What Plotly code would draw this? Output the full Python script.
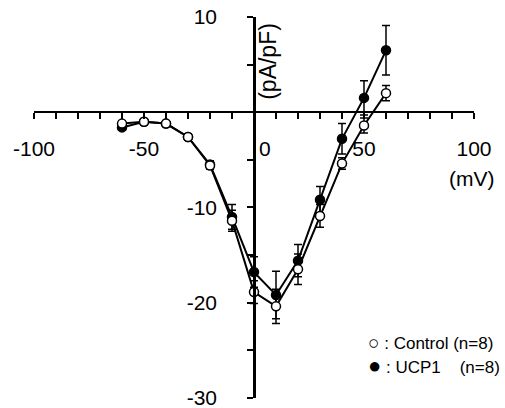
import plotly.graph_objects as go

voltages = [-60, -50, -40, -30, -20, -10, 0, 10, 20, 30, 40, 50, 60]
control = [-1.2, -1.0, -1.2, -2.6, -5.6, -11.4, -18.9, -20.4, -16.5, -10.9, -5.4, -1.4, 2.0]
control_err = [0.3, 0.3, 0.3, 0.3, 0.4, 1.1, 1.2, 1.8, 1.6, 1.2, 0.6, 0.8, 0.8]
ucp1 = [-1.6, -1.0, -1.2, -2.6, -5.5, -11.0, -16.8, -19.2, -15.6, -9.2, -2.8, 1.5, 6.5]
ucp1_err = [0.3, 0.3, 0.3, 0.3, 0.4, 1.3, 1.6, 2.5, 1.7, 1.4, 1.6, 1.8, 2.6]

x_ticks = list(range(-100, 101, 10))
x_labels = {-100: "-100", -50: "-50", 50: "50", 100: "100"}
y_ticks = list(range(-30, 11, 5))
y_labels = {10: "10", -10: "-10", -20: "-20", -30: "-30"}

FONT = "Liberation Sans, Arial, Helvetica, sans-serif"

fig = go.Figure()
fig.add_trace(go.Scatter(
    x=voltages, y=ucp1, mode="lines+markers", name="UCP1",
    line=dict(color="black", width=2),
    marker=dict(symbol="circle", size=9, color="black", line=dict(color="black", width=1.5)),
    error_y=dict(type="data", array=ucp1_err, visible=True, color="black", thickness=1.5, width=4),
    showlegend=False,
))
fig.add_trace(go.Scatter(
    x=voltages, y=control, mode="lines+markers", name="Control",
    line=dict(color="black", width=2),
    marker=dict(symbol="circle", size=9, color="white", line=dict(color="black", width=1.5)),
    error_y=dict(type="data", array=control_err, visible=True, color="black", thickness=1.5, width=4),
    showlegend=False,
))

fig.update_layout(
    width=505, height=408,
    margin=dict(l=34, r=31, t=17, b=10, autoexpand=False),
    paper_bgcolor="white", plot_bgcolor="white",
    font=dict(family=FONT, color="black", size=21),
    xaxis=dict(
        range=[-100, 100], anchor="free", position=0.75,
        showline=True, linecolor="black", linewidth=2,
        ticks="outside", ticklen=6, tickwidth=1.5, tickcolor="black",
        tickvals=x_ticks, ticktext=[x_labels.get(v, "") for v in x_ticks],
        tickfont=dict(size=21), ticklabelstandoff=12, ticklabeloverflow="allow",
        showgrid=False, zeroline=False, automargin=False,
    ),
    yaxis=dict(
        range=[-30.03, 10], anchor="free", position=0.5,
        showline=True, linecolor="black", linewidth=2.5,
        ticks="outside", ticklen=6, tickwidth=1.5, tickcolor="black",
        tickvals=y_ticks, ticktext=[y_labels.get(v, "") for v in y_ticks],
        tickfont=dict(size=21), ticklabelstandoff=26, ticklabeloverflow="allow",
        showgrid=False, zeroline=False, automargin=False,
    ),
    annotations=[
        dict(x=0, y=0, xref="x", yref="y", text="0", showarrow=False,
             xshift=11, yshift=-36, font=dict(size=21)),
        dict(x=99, y=-7, xref="x", yref="y", text="(mV)", showarrow=False,
             xanchor="center", font=dict(size=21)),
        dict(x=6.4, y=5.3, xref="x", yref="y", text="(pA/pF)", showarrow=False,
             textangle=-90, font=dict(size=23)),
        dict(x=51.0, y=-24.2, xref="x", yref="y", xanchor="left",
             text="<span style='font-size:19px'>\u25cb</span> : Control (n=8)",
             showarrow=False, font=dict(size=17)),
        dict(x=51.0, y=-26.6, xref="x", yref="y", xanchor="left",
             text="<span style='font-size:22px'>\u25cf</span> : UCP1\u00a0\u00a0\u00a0 (n=8)",
             showarrow=False, font=dict(size=17)),
    ],
)

fig.write_html(
    "out.html",
    config={"displayModeBar": False},
    post_script="document.body.style.margin='0';document.body.style.overflow='hidden';",
)
